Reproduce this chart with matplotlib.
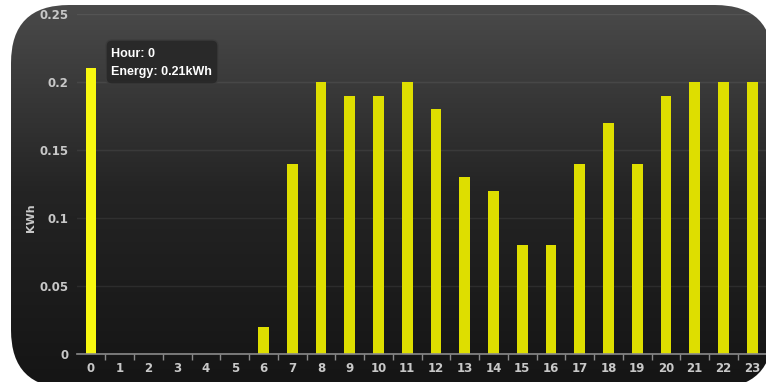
import numpy as np
import matplotlib
matplotlib.use("Agg")
import matplotlib.pyplot as plt
from matplotlib.patches import FancyBboxPatch
from matplotlib.colors import LinearSegmentedColormap

# energy use per hour of the day
hours = list(range(24))
energy = [0.21, 0, 0, 0, 0, 0, 0.02, 0.14, 0.2, 0.19, 0.19, 0.2,
          0.18, 0.13, 0.12, 0.08, 0.08, 0.14, 0.17, 0.14, 0.19, 0.2, 0.2, 0.2]
yticks = [0, 0.05, 0.1, 0.15, 0.2, 0.25]
ytick_labels = ["0", "0.05", "0.1", "0.15", "0.2", "0.25"]
hover = 0

W, H = 766, 382
fig = plt.figure(figsize=(W / 100, H / 100), dpi=100)
fig.patch.set_facecolor("white")

# background panel in pixel units
bg = fig.add_axes([0, 0, 1, 1])
bg.set_xlim(0, W)
bg.set_ylim(0, H)
bg.axis("off")
bg.set_zorder(0)

panel = FancyBboxPatch((11, -6), 762, 383, boxstyle="round,pad=0,rounding_size=58",
                       facecolor="none", edgecolor="none")
bg.add_patch(panel)
grad = LinearSegmentedColormap.from_list("bggrad", ["#151515", "#242424", "#4b4b4b"])
g = np.linspace(0, 1, 256).reshape(-1, 1)
im = bg.imshow(g, cmap=grad, extent=[0, W, 0, H], origin="lower", aspect="auto", zorder=0)
im.set_clip_path(panel)

ax = fig.add_axes([76.6 / W, 28 / H, 690 / W, 340 / H])
ax.set_zorder(1)
ax.set_facecolor("none")
ax.set_xlim(-0.5, 23.5)
ax.set_ylim(0, 0.25)

colors = ["#f8f810" if h == hover else "#dede00" for h in hours]
bars = ax.bar(hours, energy, width=0.38, color=colors, zorder=3)
for b in bars:
    b.set_clip_path(panel)

for s in ["top", "right", "left"]:
    ax.spines[s].set_visible(False)
ax.spines["bottom"].set_color("#8a8a8a")
ax.spines["bottom"].set_linewidth(1.2)
ax.spines["bottom"].set_zorder(4)

ax.set_yticks(yticks)
ax.set_yticklabels(ytick_labels)
ax.grid(axis="y", color="#ffffff", alpha=0.07, linewidth=1)
ax.set_axisbelow(True)
ax.tick_params(axis="y", length=0, pad=6, labelcolor="#c8c8c8", labelsize=8.5)

ax.set_xticks(hours)
ax.set_xticks(np.arange(0.5, 23, 1), minor=True)
ax.tick_params(axis="x", which="major", length=0, pad=6, labelcolor="#c8c8c8", labelsize=8.5)
ax.tick_params(axis="x", which="minor", length=4, width=1, color="#8a8a8a", direction="out")
for t in ax.get_xticklabels() + ax.get_yticklabels():
    t.set_fontweight("bold")
    t.set_clip_path(panel)

fig.text(31 / W, 1 - 218 / H, "KWh", rotation=90, ha="center", va="center",
         color="#c8c8c8", fontsize=8, fontweight="bold")

# hover tooltip
tip_ax = fig.add_axes([0, 0, 1, 1], zorder=2)
tip_ax.set_xlim(0, W)
tip_ax.set_ylim(0, H)
tip_ax.axis("off")
tip = FancyBboxPatch((106, H - 84), 112, 44, boxstyle="round,pad=0,rounding_size=6",
                     facecolor="#282828", edgecolor="#3c3c3c", linewidth=1, alpha=0.95)
tip_ax.add_patch(tip)
tip_font = dict(color="white", fontsize=9, fontweight="bold", family="Liberation Sans",
                va="center", ha="left")
tip_ax.text(111, H - 54, f"Hour: {hours[hover]}", **tip_font)
tip_ax.text(111, H - 72, f"Energy: {energy[hover]}kWh", **tip_font)

fig.savefig("out.png", dpi=100)
